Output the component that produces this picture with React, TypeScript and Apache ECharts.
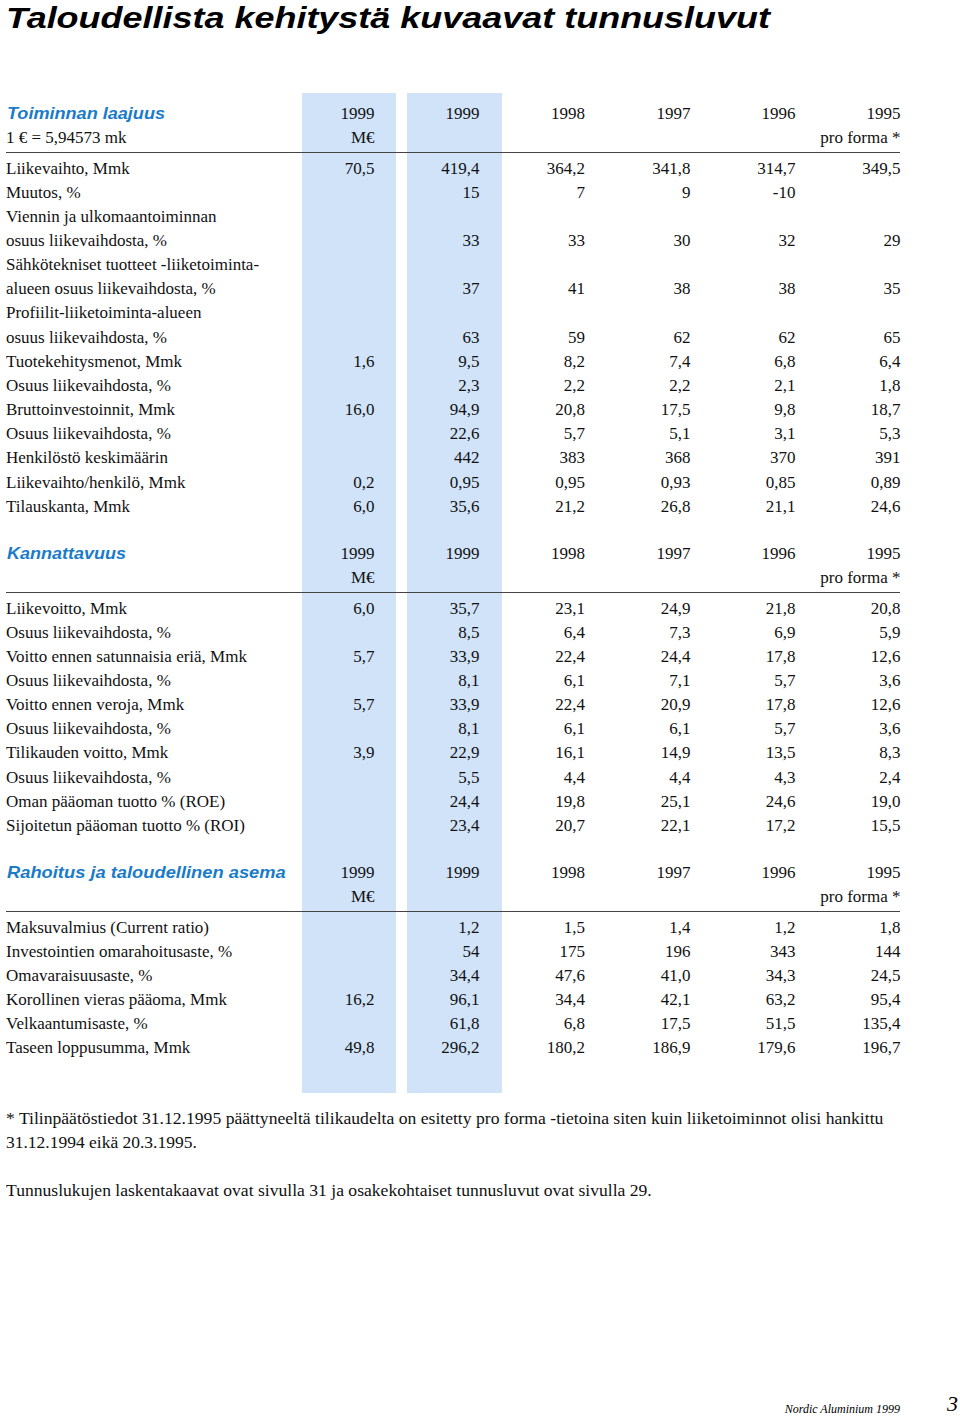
import React, { useEffect, useRef } from "react";
import * as echarts from "echarts";

// ---------- data ----------
const pageTitle = "Taloudellista kehitystä kuvaavat tunnusluvut";
const yearHeaders = ["1999", "1999", "1998", "1997", "1996", "1995"];
const unitHeaders = ["M€", "", "", "", "", "pro forma *"];
const sectionTitles = ["Toiminnan laajuus", "Kannattavuus", "Rahoitus ja taloudellinen asema"];
const sectionNotes = ["1 € = 5,94573 mk", "", ""];

const laajuusLabels = [
  "Liikevaihto, Mmk",
  "Muutos, %",
  "Viennin ja ulkomaantoiminnan",
  "osuus liikevaihdosta, %",
  "Sähkötekniset tuotteet -liiketoiminta-",
  "alueen osuus liikevaihdosta, %",
  "Profiilit-liiketoiminta-alueen",
  "osuus liikevaihdosta, %",
  "Tuotekehitysmenot, Mmk",
  "Osuus liikevaihdosta, %",
  "Bruttoinvestoinnit, Mmk",
  "Osuus liikevaihdosta, %",
  "Henkilöstö keskimäärin",
  "Liikevaihto/henkilö, Mmk",
  "Tilauskanta, Mmk",
];
const laajuusValues: (string[] | null)[] = [
  ["70,5", "419,4", "364,2", "341,8", "314,7", "349,5"],
  ["", "15", "7", "9", "-10", ""],
  null,
  ["", "33", "33", "30", "32", "29"],
  null,
  ["", "37", "41", "38", "38", "35"],
  null,
  ["", "63", "59", "62", "62", "65"],
  ["1,6", "9,5", "8,2", "7,4", "6,8", "6,4"],
  ["", "2,3", "2,2", "2,2", "2,1", "1,8"],
  ["16,0", "94,9", "20,8", "17,5", "9,8", "18,7"],
  ["", "22,6", "5,7", "5,1", "3,1", "5,3"],
  ["", "442", "383", "368", "370", "391"],
  ["0,2", "0,95", "0,95", "0,93", "0,85", "0,89"],
  ["6,0", "35,6", "21,2", "26,8", "21,1", "24,6"],
];

const kannattavuusLabels = [
  "Liikevoitto, Mmk",
  "Osuus liikevaihdosta, %",
  "Voitto ennen satunnaisia eriä, Mmk",
  "Osuus liikevaihdosta, %",
  "Voitto ennen veroja, Mmk",
  "Osuus liikevaihdosta, %",
  "Tilikauden voitto, Mmk",
  "Osuus liikevaihdosta, %",
  "Oman pääoman tuotto % (ROE)",
  "Sijoitetun pääoman tuotto % (ROI)",
];
const kannattavuusValues: (string[] | null)[] = [
  ["6,0", "35,7", "23,1", "24,9", "21,8", "20,8"],
  ["", "8,5", "6,4", "7,3", "6,9", "5,9"],
  ["5,7", "33,9", "22,4", "24,4", "17,8", "12,6"],
  ["", "8,1", "6,1", "7,1", "5,7", "3,6"],
  ["5,7", "33,9", "22,4", "20,9", "17,8", "12,6"],
  ["", "8,1", "6,1", "6,1", "5,7", "3,6"],
  ["3,9", "22,9", "16,1", "14,9", "13,5", "8,3"],
  ["", "5,5", "4,4", "4,4", "4,3", "2,4"],
  ["", "24,4", "19,8", "25,1", "24,6", "19,0"],
  ["", "23,4", "20,7", "22,1", "17,2", "15,5"],
];

const rahoitusLabels = [
  "Maksuvalmius (Current ratio)",
  "Investointien omarahoitusaste, %",
  "Omavaraisuusaste, %",
  "Korollinen vieras pääoma, Mmk",
  "Velkaantumisaste, %",
  "Taseen loppusumma, Mmk",
];
const rahoitusValues: (string[] | null)[] = [
  ["", "1,2", "1,5", "1,4", "1,2", "1,8"],
  ["", "54", "175", "196", "343", "144"],
  ["", "34,4", "47,6", "41,0", "34,3", "24,5"],
  ["16,2", "96,1", "34,4", "42,1", "63,2", "95,4"],
  ["", "61,8", "6,8", "17,5", "51,5", "135,4"],
  ["49,8", "296,2", "180,2", "186,9", "179,6", "196,7"],
];

const footnotes = [
  "* Tilinpäätöstiedot 31.12.1995 päättyneeltä tilikaudelta on esitetty pro forma -tietoina siten kuin liiketoiminnot olisi hankittu",
  "31.12.1994 eikä 20.3.1995.",
  "Tunnuslukujen laskentakaavat ovat sivulla 31 ja osakekohtaiset tunnusluvut ovat sivulla 29.",
];
const footerText = "Nordic Aluminium 1999";
const pageNumber = "3";

// ---------- layout ----------
const SERIF = '"Liberation Serif", "Times New Roman", serif';
const SANS = '"Liberation Sans", Arial, sans-serif';
const BLUE = "#1a7bc9";
const LIGHT = "#d0e3f9";
const COL_RIGHT = [374.5, 479.5, 585, 690.5, 795.5, 900.5];
const SECTION_BASE = [119, 559, 878];
const ROW_H = 24.15;
const BODY = 17;

let measureCtx: CanvasRenderingContext2D | null = null;
function measure(text: string, font: string): number {
  if (!measureCtx) measureCtx = document.createElement("canvas").getContext("2d");
  if (!measureCtx) return 0;
  measureCtx.font = font;
  return measureCtx.measureText(text).width;
}

function txt(
  text: string,
  x: number,
  baseline: number,
  size: number,
  opts: {
    family?: string;
    weight?: string;
    style?: string;
    fill?: string;
    align?: string;
    fitWidth?: number;
    lineHeight?: number;
  } = {}
) {
  const family = opts.family || SERIF;
  const font = `${opts.style || "normal"} ${opts.weight || "normal"} ${size}px ${family}`;
  let scaleX = 1;
  if (opts.fitWidth) {
    const w = measure(text, font);
    if (w > 0) scaleX = opts.fitWidth / w;
  }
  const align = opts.align || "left";
  return {
    type: "text",
    x,
    y: baseline - size * 0.35,
    scaleX,
    silent: true,
    z: 10,
    style: {
      text,
      font,
      fill: opts.fill || "#111",
      align,
      verticalAlign: "middle",
      textAlign: align,
      textVerticalAlign: "middle",
      lineHeight: opts.lineHeight || Math.round(size * 1.2),
    },
  };
}

function buildElements() {
  const els: any[] = [];
  // light-blue column bands
  [[302, 396], [407, 502]].forEach(([a, b]) => {
    els.push({
      type: "rect",
      shape: { x: a, y: 93, width: b - a, height: 1000 },
      style: { fill: LIGHT },
      silent: true,
      z: 1,
    });
  });

  els.push(
    txt(pageTitle, 6, 28, 30, {
      family: SANS,
      weight: "bold",
      style: "italic",
      fill: "#000",
      fitWidth: 764,
      lineHeight: 26,
    })
  );

  const sections = [
    { labels: laajuusLabels, values: laajuusValues, fit: 158 },
    { labels: kannattavuusLabels, values: kannattavuusValues, fit: 119 },
    { labels: rahoitusLabels, values: rahoitusValues, fit: 279 },
  ];
  sections.forEach((sec, si) => {
    const H = SECTION_BASE[si];
    els.push(
      txt(sectionTitles[si], 7, H, 16, { family: SANS, weight: "bold", style: "italic", fill: BLUE, fitWidth: sec.fit })
    );
    if (sectionNotes[si]) els.push(txt(sectionNotes[si], 6, H + 24.5, BODY));
    yearHeaders.forEach((y, ci) => els.push(txt(y, COL_RIGHT[ci], H, BODY, { align: "right" })));
    unitHeaders.forEach((u, ci) => {
      if (u) els.push(txt(u, COL_RIGHT[ci], H + 24.5, BODY, { align: "right" }));
    });
    const ly = Math.round(H + 32.5) + 0.5;
    els.push({
      type: "line",
      shape: { x1: 6, y1: ly, x2: 900, y2: ly },
      style: { stroke: "#444444", lineWidth: 1.2 },
      silent: true,
      z: 5,
    });
    sec.labels.forEach((label, ri) => {
      const b = H + 55 + ri * ROW_H;
      els.push(txt(label, 6, b, BODY));
      const vals = sec.values[ri];
      if (vals)
        vals.forEach((v, ci) => {
          if (v) els.push(txt(v, COL_RIGHT[ci], b, BODY, { align: "right" }));
        });
    });
  });

  els.push(txt(footnotes[0], 6, 1125, BODY, { fitWidth: 879 }));
  els.push(txt(footnotes[1], 6, 1149, BODY, { fitWidth: 191 }));
  els.push(txt(footnotes[2], 6, 1197, BODY, { fitWidth: 646 }));

  els.push(txt(footerText, 900, 1413, 12, { style: "italic", align: "right", fill: "#000", lineHeight: 10 }));
  els.push(txt(pageNumber, 958, 1411, 22, { style: "italic", align: "right", fill: "#000", lineHeight: 16 }));
  return els;
}

export default function App() {
  const ref = useRef<HTMLDivElement>(null);
  useEffect(() => {
    if (!ref.current) return;
    const chart = echarts.init(ref.current, undefined, { renderer: "svg" });
    chart.setOption({
      animation: false,
      backgroundColor: "#ffffff",
      graphic: { elements: buildElements() },
    });
    return () => chart.dispose();
  }, []);
  return (
    <div
      ref={ref}
      style={{ position: "fixed", left: 0, top: 0, width: 960, height: 1416, background: "#fff" }}
    />
  );
}
